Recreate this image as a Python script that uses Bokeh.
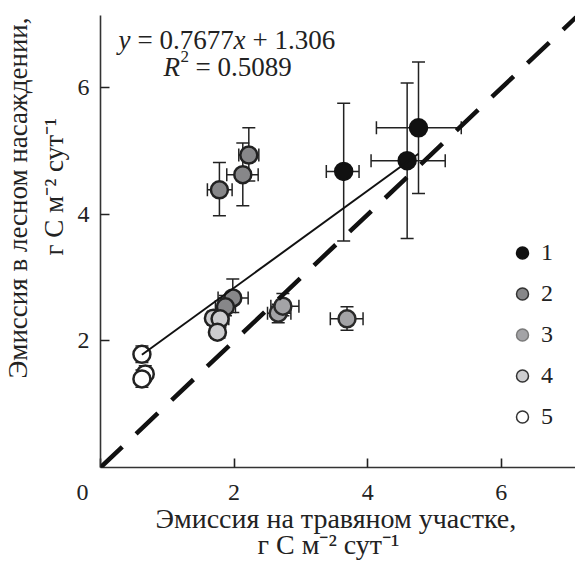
from bokeh.plotting import figure
from bokeh.models import (ColumnDataSource, Whisker, TeeHead, Slope, Label, Title,
                          Legend, LegendItem, FixedTicker, Range1d)
from bokeh.embed import file_html
from bokeh.resources import INLINE

FONT = "Liberation Serif"
NB = "\u00a0"

# ---- data ----
group_labels = ["1", "2", "3", "4", "5"]

g1_x = [3.64, 4.59, 4.76]
g1_y = [4.68, 4.85, 5.37]
g1_xlo = [3.38, 4.05, 4.13]
g1_xhi = [3.87, 5.16, 5.40]
g1_ylo = [3.58, 3.62, 4.33]
g1_yhi = [5.76, 6.08, 6.41]

g2_x = [1.78, 2.13, 2.22, 1.98, 1.87]
g2_y = [4.39, 4.63, 4.94, 2.68, 2.54]
g2_xlo = [1.60, 1.89, 2.07, 1.76, 1.72]
g2_xhi = [1.97, 2.36, 2.37, 2.21, 2.02]
g2_ylo = [3.98, 4.14, 4.53, 2.45, 2.40]
g2_yhi = [4.82, 5.13, 5.37, 2.98, 2.72]

g3_x = [2.66, 2.73, 3.69]
g3_y = [2.44, 2.55, 2.35]
g3_xlo = [2.50, 2.55, 3.44]
g3_xhi = [2.85, 2.97, 3.93]
g3_ylo = [2.29, 2.40, 2.17]
g3_yhi = [2.58, 2.75, 2.54]

g4_x = [1.69, 1.79, 1.75]
g4_y = [2.36, 2.35, 2.14]
g4_xlo = [1.60, 1.68, 1.65]
g4_xhi = [1.80, 1.92, 1.86]
g4_ylo = [2.25, 2.22, 2.05]
g4_yhi = [2.47, 2.48, 2.24]

g5_x = [0.62, 0.67, 0.62]
g5_y = [1.79, 1.48, 1.40]
g5_xlo = [0.58, 0.62, 0.57]
g5_xhi = [0.66, 0.72, 0.67]
g5_ylo = [1.66, 1.36, 1.27]
g5_yhi = [1.92, 1.61, 1.54]

fit_slope = 0.7677
fit_intercept = 1.306
fit_r2 = 0.5089

x_ticks = [0, 2, 4, 6]
y_ticks = [2, 4, 6]
x_max = 7.11
y_max = 7.146

x_title = "Эмиссия на травяном участке,"
y_title = "Эмиссия в лесном насаждении,"
unit_title = "г С м⁻² сут⁻¹"

groups = [
    (g1_x, g1_y, g1_xlo, g1_xhi, g1_ylo, g1_yhi),
    (g2_x, g2_y, g2_xlo, g2_xhi, g2_ylo, g2_yhi),
    (g3_x, g3_y, g3_xlo, g3_xhi, g3_ylo, g3_yhi),
    (g4_x, g4_y, g4_xlo, g4_xhi, g4_ylo, g4_yhi),
    (g5_x, g5_y, g5_xlo, g5_xhi, g5_ylo, g5_yhi),
]
fills = ["#111111", "#878789", "#a3a3a6", "#cdcdcf", "#ffffff"]
lines = ["#111111", "#222222", "#2a2a2a", "#222222", "#222222"]
legend_lines = ["#111111", "#333333", "#7a7a7a", "#333333", "#333333"]

p = figure(width=575, height=564, output_backend="svg", toolbar_location=None,
           x_range=Range1d(0, x_max), y_range=Range1d(0, y_max),
           min_border_left=100, min_border_right=0, min_border_top=15,
           min_border_bottom=97)
p.outline_line_color = None
p.grid.visible = False
p.background_fill_color = "white"

p.xaxis.ticker = FixedTicker(ticks=x_ticks)
p.yaxis.ticker = FixedTicker(ticks=y_ticks)
p.xaxis.major_label_overrides = {0: "0" + NB * 6}
for ax in (p.xaxis[0], p.yaxis[0]):
    ax.major_tick_in = 9
    ax.major_tick_out = 0
    ax.minor_tick_in = 0
    ax.minor_tick_out = 0
    ax.axis_line_width = 1.6
    ax.axis_line_color = "#333333"
    ax.major_tick_line_width = 1.6
    ax.major_tick_line_color = "#222222"
    ax.major_label_text_font = FONT
    ax.major_label_text_font_size = "24px"
    ax.major_label_text_color = "#222222"
p.xaxis.major_label_standoff = 11
p.yaxis.major_label_standoff = 11

# error bars
sources = []
for (gx, gy, xlo, xhi, ylo, yhi) in groups:
    src = ColumnDataSource(dict(x=gx, y=gy, xlo=xlo, xhi=xhi, ylo=ylo, yhi=yhi))
    sources.append(src)
    for dim, base, lo, hi in (("height", "x", "ylo", "yhi"), ("width", "y", "xlo", "xhi")):
        w = Whisker(source=src, base=base, lower=lo, upper=hi, dimension=dim,
                    line_color="#222222", line_width=1.5, level="underlay",
                    upper_head=TeeHead(size=13, line_width=1.5, line_color="#222222"),
                    lower_head=TeeHead(size=13, line_width=1.5, line_color="#222222"))
        p.add_layout(w)

# points
for src, fc, lc in zip(sources, fills, lines):
    p.scatter("x", "y", source=src, size=17, fill_color=fc, line_color=lc, line_width=2.5)

# regression line over the data x range
all_x = g1_x + g2_x + g3_x + g4_x + g5_x
fx = [min(all_x), max(all_x)]
fy = [fit_slope * v + fit_intercept for v in fx]
p.line(fx, fy, line_color="#111111", line_width=2)

# 1:1 line
p.add_layout(Slope(gradient=1, y_intercept=0, line_color="#111111",
                   line_width=4.5, line_dash="30 19"))

# legend with its own (never drawn) renderers
nan = float("nan")
items = []
for lab_, fc, lc in zip(group_labels, fills, legend_lines):
    r = p.scatter(x=[nan], y=[nan], size=12, fill_color=fc, line_color=lc, line_width=1.5)
    items.append(LegendItem(label=lab_, renderers=[r]))
legend = Legend(items=items, location=(407, 30), glyph_width=30, glyph_height=41,
                label_height=41, spacing=0, padding=0, margin=0, label_standoff=4,
                border_line_color=None, background_fill_alpha=0,
                label_text_font=FONT, label_text_font_size="24px",
                label_text_color="#222222")
p.add_layout(legend)

def lab(text, x, y, size="27px", style="normal"):
    p.add_layout(Label(x=x, y=y, x_units="screen", y_units="screen", text=text,
                       text_font=FONT, text_font_size=size, text_font_style=style,
                       text_align="left", text_baseline="alphabetic",
                       text_color="#222222"))

# equation
lab("y", 18, 428, style="italic")
lab("=", 37, 428)
lab(f"{fit_slope}", 59, 428)
lab("x", 133, 428, style="italic")
lab("+", 152, 428)
lab(f"{fit_intercept}", 174, 428)
lab("R", 63, 401, style="italic")
lab("2", 80, 411, size="17px")
lab("=", 95, 401)
lab(f"{fit_r2}", 117, 401)

# axis titles (closest line first)
def title(text, side, offset, standoff, size):
    p.add_layout(Title(text=text, align="left", offset=offset, standoff=standoff,
                       text_font=FONT, text_font_size=size, text_font_style="normal",
                       text_color="#222222"), side)

title(x_title, "below", 55, -14, "28px")
title(unit_title, "below", 157, 1, "28px")
title(unit_title, "left", 212, 11, "27px")
title(y_title, "left", 89, -2, "27px")

open("out.html", "w").write(file_html(p, INLINE))
